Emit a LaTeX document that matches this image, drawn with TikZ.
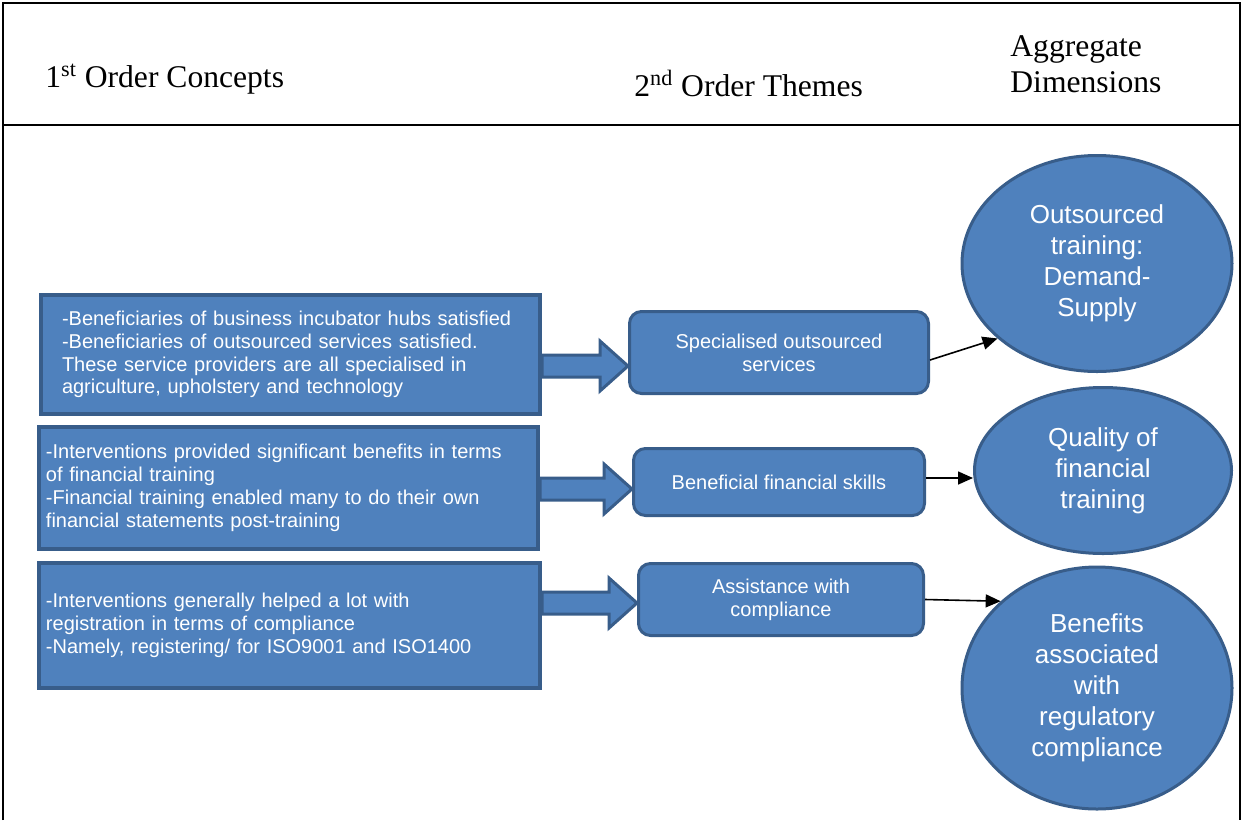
\documentclass[tikz,border=0pt]{standalone}
\usepackage{fontspec}
\setmainfont{Liberation Serif}
\newfontfamily\arialfont{Liberation Sans}
\usepackage{xcolor}
\definecolor{boxblue}{RGB}{79,129,189}
\definecolor{boxedge}{RGB}{56,93,138}
\usetikzlibrary{calc,positioning,arrows.meta,shapes.geometric}

% fat outlined arrow from one node to another at a given height
\newcommand{\fatarrow}[3]{%
    \draw[fatlink] let \p1=(#1), \p2=(#2), \p3=(0,#3) in
        (\x1,\y3+5.5pt) -- (\x2-14pt,\y3+5.5pt) -- (\x2-14pt,\y3+12.5pt) -- (\x2,\y3)
        -- (\x2-14pt,\y3-12.5pt) -- (\x2-14pt,\y3-5.5pt) -- (\x1,\y3-5.5pt) -- cycle;
}

\begin{document}
\begin{tikzpicture}[x=0.5pt, y=-0.5pt,
    concept/.style={draw=boxedge, line width=2pt, fill=boxblue, text=white,
        font=\arialfont\fontsize{10}{11.4}\selectfont, align=left, inner ysep=0pt},
    theme/.style={draw=boxedge, line width=1.5pt, fill=boxblue, text=white, rounded corners=6pt,
        font=\arialfont\fontsize{10}{11.4}\selectfont, align=center, inner sep=0pt},
    dimension/.style={draw=boxedge, line width=1.5pt, fill=boxblue, text=white, ellipse,
        font=\arialfont\fontsize{13}{15.5}\selectfont, align=center, inner sep=0pt},
    header/.style={font=\fontsize{15.8}{18.5}\selectfont, inner sep=0pt, anchor=base west, align=left},
    fatlink/.style={draw=boxedge, line width=1.5pt, fill=boxblue},
    link/.style={-{Triangle[length=7.5pt,width=6.5pt]}, line width=0.8pt, black}]

    \useasboundingbox (0,0) rectangle (1243,820);

    % Frame and header
    \draw[line width=0.9pt] (3,820) -- (3,3) -- (1240,3) -- (1240,820);
    \draw[line width=0.9pt] (3,125) -- (1240,125);
    \node[header] (h1) at (45,87) {1\textsuperscript{st} Order Concepts};
    \node[header] (h2) at (634,96) {2\textsuperscript{nd} Order Themes};
    \node[header] (h3) at (1010,56) {Aggregate};
    \node[header] (h4) at (1010,92) {Dimensions};

    % 1st order concepts
    \node[concept, text width=228.5pt, inner xsep=10.5pt, minimum height=59.5pt] (c1) at (290.5,354.5)
        {-Beneficiaries of business incubator hubs satisfied\\-Beneficiaries of outsourced services satisfied.\\These service providers are all specialised in\\agriculture, upholstery and technology};
    \node[concept, text width=242.5pt, inner xsep=3.5pt, minimum height=61pt] (c2) at (288.5,488)
        {-Interventions provided significant benefits in terms\\of financial training\\-Financial training enabled many to do their own\\financial statements post-training};
    \node[concept, text width=243.5pt, inner xsep=3.5pt, minimum height=62.5pt] (c3) at (289.5,625.5)
        {-Interventions generally helped a lot with\\registration in terms of compliance\\-Namely, registering/ for ISO9001 and ISO1400};

    % 2nd order themes
    \node[theme, minimum width=149.5pt, minimum height=41pt] (t1) at (779,352.5) {Specialised outsourced\\services};
    \node[theme, minimum width=145.5pt, minimum height=33.5pt] (t2) at (779,482) {Beneficial financial skills};
    \node[theme, minimum width=142.5pt, minimum height=36pt] (t3) at (781,599.5) {Assistance with\\compliance};

    % Aggregate dimensions
    \node[dimension, minimum width=135pt, minimum height=108pt] (d1) at (1097,263.5) {Outsourced\\training:\\Demand-\\Supply};
    \node[dimension, minimum width=128.5pt, minimum height=83pt] (d2) at (1103,470.5) {Quality of\\financial\\training};
    \node[dimension, minimum width=135pt, minimum height=121pt] (d3) at (1097,688) {Benefits\\associated\\with\\regulatory\\compliance};

    % Fat arrows into the themes
    \fatarrow{c1.east}{t1.west}{366}
    \fatarrow{c2.east}{t2.west}{489}
    \fatarrow{c3.east}{t3.west}{603}

    % Links to the dimensions
    \draw[link] ([yshift=-3.75pt]t1.east) -- (d1.217);
    \draw[link] ([yshift=2pt]t2.east) -- ([yshift=2pt]t2.east -| d2.west);
    \draw[link] (t3.east) -- (d3.138);
\end{tikzpicture}
\end{document}
